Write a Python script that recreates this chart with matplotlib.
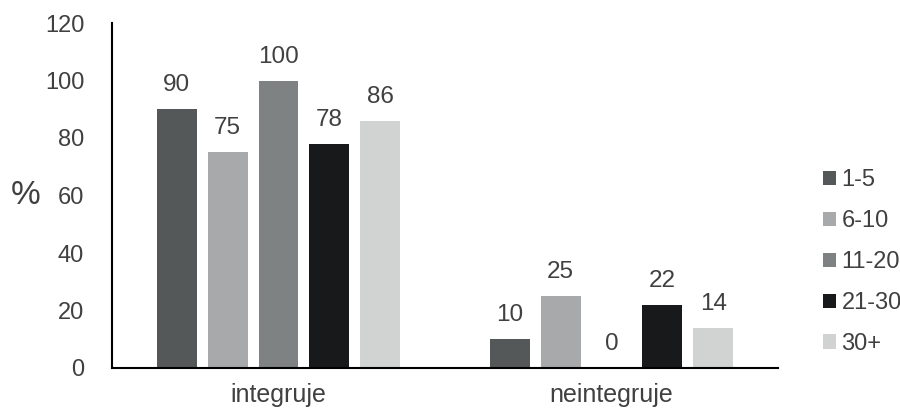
import numpy as np
import matplotlib
matplotlib.use("Agg")
import matplotlib.pyplot as plt

plt.rcParams['font.family'] = ['Liberation Sans', 'DejaVu Sans']

categories = ['integruje', 'neintegruje']
groups = ['1-5', '6-10', '11-20', '21-30', '30+']
values = {
    '1-5': [90, 10],
    '6-10': [75, 25],
    '11-20': [100, 0],
    '21-30': [78, 22],
    '30+': [86, 14],
}
colors = ['#555859', '#a7a9aa', '#7f8283', '#17191b', '#d1d3d3']
text_col = '#404040'

fig = plt.figure(figsize=(9, 4.13), dpi=100)
ax = fig.add_axes([112 / 900, 45 / 413, 666 / 900, 345 / 413])

x = np.arange(len(categories))
step = 0.153
width = 0.12
for i, g in enumerate(groups):
    pos = x + (i - 2) * step
    bars = ax.bar(pos, values[g], width, color=colors[i], label=g)
    for b, v in zip(bars, values[g]):
        ax.text(b.get_x() + b.get_width() / 2, v + 4.5, str(v),
                ha='center', va='bottom', fontsize=17.5, color=text_col)

ax.set_xlim(-0.5, 1.5)
ax.set_ylim(0, 120)
ax.set_yticks(range(0, 121, 20))
ax.set_xticks(x)
ax.set_xticklabels(categories)
ax.tick_params(axis='both', length=0, labelsize=17, labelcolor=text_col)
ax.tick_params(axis='x', labelsize=18, pad=11)
ax.tick_params(axis='y', pad=20)
ax.spines['top'].set_visible(False)
ax.spines['right'].set_visible(False)
ax.spines['left'].set_linewidth(1.5)
ax.spines['bottom'].set_linewidth(1.5)
ax.set_ylabel('%', rotation=0, fontsize=24, color=text_col, labelpad=14, va='center')

ax.legend(loc='center left', bbox_to_anchor=(1.035, 0.307),
          frameon=False, fontsize=17, handlelength=0.55, handleheight=0.55,
          handletextpad=0.25, labelspacing=0.8, labelcolor=text_col)

fig.savefig('out.png', dpi=100)
